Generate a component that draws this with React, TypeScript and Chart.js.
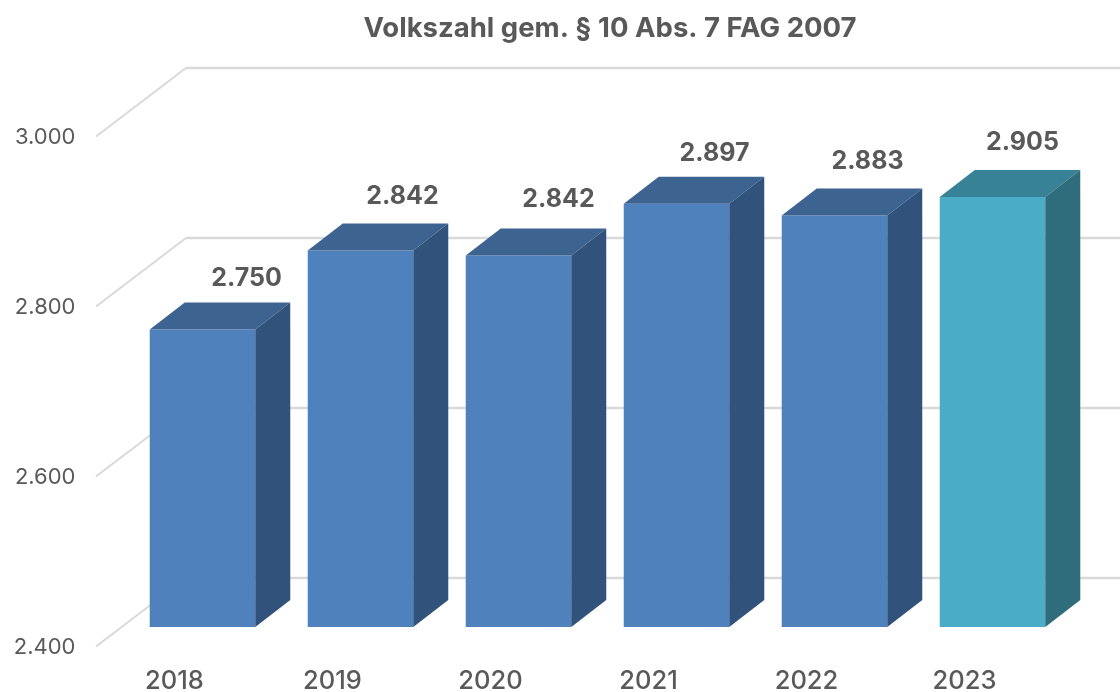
import React, { useEffect, useRef } from "react";
import { Chart, registerables } from "chart.js";

Chart.register(...registerables);

const categories = ["2018", "2019", "2020", "2021", "2022", "2023"];
// Heights as drawn in the picture
const barHeights = [2750, 2843, 2837, 2898, 2884, 2906];
// Values as printed above the bars
const printedValues = ["2.750", "2.842", "2.842", "2.897", "2.883", "2.905"];
const yTicks = { min: 2400, max: 3000, step: 200 };

const FONT = "Inter, 'Open Sans', sans-serif";
const TEXT = "#595959";
const GRID = "#d9d9d9";
const FRONT = ["#4f81bd", "#4f81bd", "#4f81bd", "#4f81bd", "#4f81bd", "#4aacc6"];
const TOP = ["#3d6390", "#3d6390", "#3d6390", "#3d6390", "#3d6390", "#388298"];
const SIDE = ["#31527a", "#31527a", "#31527a", "#31527a", "#31527a", "#2f6c7c"];
const DEPTH = { x: 35, y: 27 };
const LABEL_DX = [44, 42, 40, 38, 33, 30];
const LABEL_DY = [-51, -54, -56, -50, -54, -54];

const wallGrid = {
  id: "wallGrid",
  beforeDatasetsDraw(chart: any) {
    const { ctx, scales } = chart;
    ctx.save();
    ctx.strokeStyle = GRID;
    scales.y.ticks.forEach((t: any) => {
      const y = scales.y.getPixelForValue(t.value);
      ctx.lineWidth = 2;
      ctx.beginPath();
      ctx.moveTo(96, y + 19.5);
      ctx.lineTo(186, y - 49);
      ctx.stroke();
      ctx.lineWidth = 2.5;
      ctx.beginPath();
      ctx.moveTo(186, y - 49);
      ctx.lineTo(chart.width, y - 49);
      ctx.stroke();
    });
    ctx.restore();
  },
};

const boxFaces = {
  id: "boxFaces",
  afterDatasetsDraw(chart: any) {
    const { ctx } = chart;
    const meta = chart.getDatasetMeta(0);
    ctx.save();
    meta.data.forEach((bar: any, i: number) => {
      const l = bar.x - bar.width / 2;
      const r = bar.x + bar.width / 2;
      const t = bar.y;
      const b = bar.base;
      ctx.fillStyle = TOP[i];
      ctx.beginPath();
      ctx.moveTo(l, t);
      ctx.lineTo(l + DEPTH.x, t - DEPTH.y);
      ctx.lineTo(r + DEPTH.x, t - DEPTH.y);
      ctx.lineTo(r, t);
      ctx.closePath();
      ctx.fill();
      ctx.fillStyle = SIDE[i];
      ctx.beginPath();
      ctx.moveTo(r, t);
      ctx.lineTo(r + DEPTH.x, t - DEPTH.y);
      ctx.lineTo(r + DEPTH.x, b - DEPTH.y);
      ctx.lineTo(r, b);
      ctx.closePath();
      ctx.fill();
      ctx.fillStyle = TEXT;
      ctx.font = `700 25px ${FONT}`;
      ctx.textAlign = "center";
      ctx.textBaseline = "middle";
      ctx.fillText(printedValues[i], bar.x + LABEL_DX[i], t + LABEL_DY[i]);
    });
    ctx.restore();
  },
};

const titleShift = {
  id: "titleShift",
  afterLayout(chart: any) {
    if (chart.titleBlock) {
      chart.titleBlock.left = 100;
      chart.titleBlock.right = 1120;
    }
  },
};

export default function App() {
  const ref = useRef<HTMLCanvasElement | null>(null);
  useEffect(() => {
    const chart = new Chart(ref.current as HTMLCanvasElement, {
      type: "bar",
      data: {
        labels: categories,
        datasets: [
          {
            label: "Volkszahl",
            data: barHeights,
            base: yTicks.min,
            backgroundColor: FRONT,
            categoryPercentage: 1,
            barPercentage: 0.668,
          },
        ],
      },
      options: {
        responsive: false,
        animation: false,
        layout: { padding: { left: 0, right: 48.5, top: 0, bottom: 0 } },
        plugins: {
          legend: { display: false },
          tooltip: { enabled: false },
          title: {
            display: true,
            text: "Volkszahl gem. § 10 Abs. 7 FAG 2007",
            color: TEXT,
            font: { family: FONT, size: 27.5, weight: 700, lineHeight: 1.2 },
            padding: { top: 12, bottom: 72 },
          },
        },
        scales: {
          x: {
            grid: { display: false },
            border: { display: false },
            ticks: {
              color: TEXT,
              font: { family: FONT, size: 25.5, weight: 500 },
              labelOffset: -28,
              padding: 31,
              autoSkip: false,
              maxRotation: 0,
            },
            afterFit(s: any) {
              s.height = 65;
            },
          },
          y: {
            min: yTicks.min,
            max: yTicks.max,
            grid: { display: false },
            border: { display: false },
            ticks: {
              stepSize: yTicks.step,
              color: TEXT,
              font: { family: FONT, size: 22, weight: 400 },
              labelOffset: 20,
              padding: 40,
              callback: (v: any) => String(v).replace(/(\d)(\d{3})$/, "$1.$2"),
            },
            afterFit(s: any) {
              s.width = 123.5;
            },
          },
        },
      },
      plugins: [titleShift, wallGrid, boxFaces],
    } as any);
    return () => chart.destroy();
  }, []);
  return (
    <div style={{ position: "fixed", left: 0, top: 0, width: 1120, height: 692, background: "#fff" }}>
      <canvas ref={ref} width={1120} height={692} style={{ display: "block" }} />
    </div>
  );
}
